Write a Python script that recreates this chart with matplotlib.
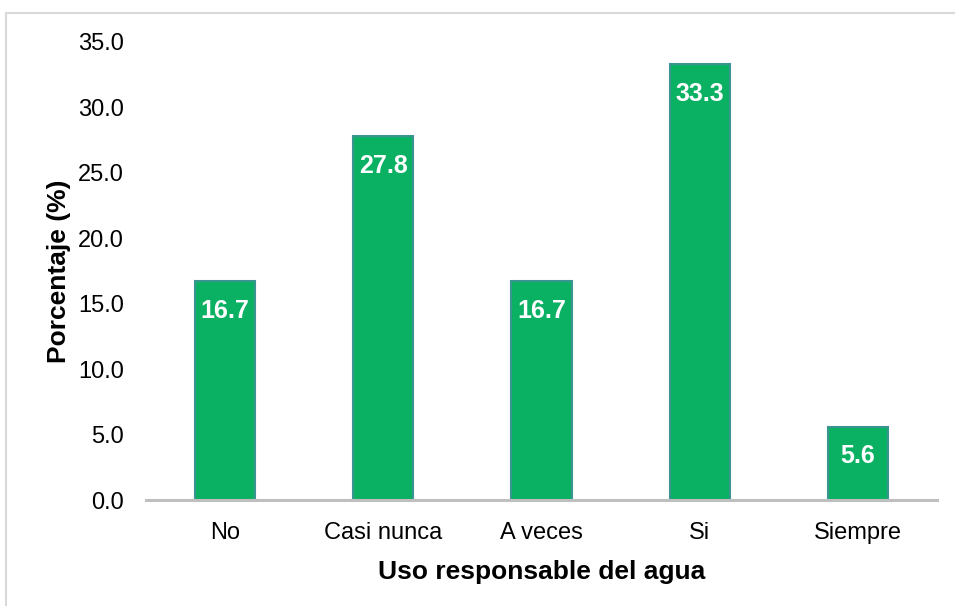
import matplotlib.pyplot as plt
from matplotlib.patches import Rectangle

categories = ["No", "Casi nunca", "A veces", "Si", "Siempre"]
values = [16.7, 27.8, 16.7, 33.3, 5.6]
yticks = [0.0, 5.0, 10.0, 15.0, 20.0, 25.0, 30.0, 35.0]

plt.rcParams['font.family'] = ['Liberation Sans', 'DejaVu Sans']

fig = plt.figure(figsize=(9.55, 6.06), dpi=100)
ax = fig.add_axes([0.1529, 0.1749, 0.8283, 0.7558])

# thin frame around the chart area
fig.patches.append(Rectangle((5.5 / 955, -0.05), 1.2, (1 - 13.5 / 606) + 0.05,
                             transform=fig.transFigure, fill=False,
                             edgecolor='#D9D9D9', linewidth=1.5))

x = range(len(categories))
bars = ax.bar(x, values, width=0.38, color='#0BB163', edgecolor='#3A9590',
              linewidth=1.5, zorder=2)

for b, v in zip(bars, values):
    ax.annotate(f"{v:.1f}", xy=(b.get_x() + b.get_width() / 2, v),
                xytext=(0, -12.5), textcoords='offset points',
                ha='center', va='top', color='white', fontsize=18,
                fontweight='bold', zorder=3)

ax.set_xlim(-0.5, len(categories) - 0.5)
ax.set_ylim(0, 35)
ax.set_yticks(yticks)
ax.set_yticklabels([f"{t:.1f}" for t in yticks])
ax.set_xticks(list(x))
ax.set_xticklabels(categories)
ax.tick_params(axis='both', length=0, labelsize=17, colors='black')
ax.tick_params(axis='x', pad=16)
ax.tick_params(axis='y', pad=16)

for s in ['top', 'right', 'left']:
    ax.spines[s].set_visible(False)
ax.spines['bottom'].set_color('#BFBFBF')
ax.spines['bottom'].set_linewidth(2.2)
ax.spines['bottom'].set_zorder(4)

ax.set_xlabel("Uso responsable del agua", fontsize=19, fontweight='bold', labelpad=11)
ax.set_ylabel("Porcentaje (%)", fontsize=19, fontweight='bold', labelpad=5)

fig.savefig("out.png", dpi=100)
